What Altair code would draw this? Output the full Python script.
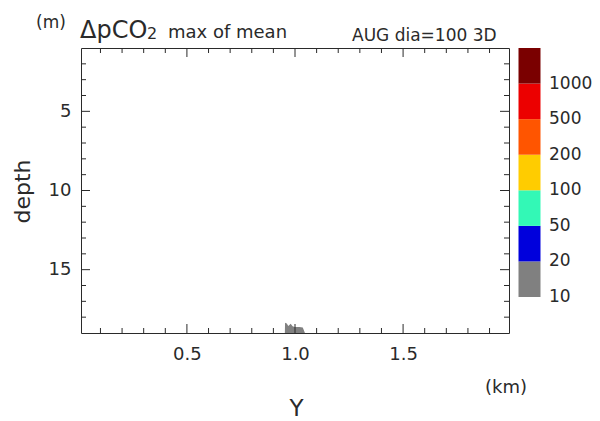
import altair as alt
import pandas as pd

# Shading levels of the colour key (lowest band first) and their colours
levels = [10, 20, 50, 100, 200, 500, 1000]
band_colors = ["#808080", "#0000dc", "#33f8b6", "#ffcc00", "#ff5500", "#ec0000", "#7a0000"]

# Outline of the shaded patch (10-20 band) sitting on the bottom boundary
patch_km = [0.953, 0.954, 0.962, 0.969, 0.980, 0.989, 0.998, 1.020, 1.036, 1.046]
patch_depth = [19.0, 18.36, 18.40, 18.55, 18.42, 18.58, 18.62, 18.62, 18.66, 19.0]

# Axis extents and tick positions
km_range = [0.01, 1.99]
depth_range = [1, 19]
km_major = [0.5, 1.0, 1.5]
km_minor = [0.1, 0.2, 0.3, 0.4, 0.6, 0.7, 0.8, 0.9, 1.1, 1.2, 1.3, 1.4, 1.6, 1.7, 1.8, 1.9]
depth_major = [5, 10, 15]
depth_minor = [2, 3, 4, 6, 7, 8, 9, 11, 12, 13, 14, 16, 17, 18]

W, H = 428, 285
INK = "#2a2a2a"
FONT = "DejaVu Sans"

xs = alt.Scale(domain=km_range, nice=False, zero=False)
ys = alt.Scale(domain=depth_range, nice=False, zero=False, reverse=True)

# One axis definition per direction, shared by every layer on that scale
x_axis = alt.Axis(
    values=km_major, format=".1f", title="Y", grid=False, ticks=False, domain=False,
    labelFont=FONT, labelFontSize=18, labelColor=INK, labelPadding=12,
    titleFont=FONT, titleFontSize=23, titleFontWeight="normal", titleColor=INK,
    titleX=215, titleY=75, titleAlign="center", titleBaseline="middle",
)
y_axis = alt.Axis(
    values=depth_major, title="depth", grid=False, ticks=False, domain=False,
    labelFont=FONT, labelFontSize=18, labelColor=INK, labelPadding=10,
    titleFont=FONT, titleFontSize=22, titleFontWeight="normal", titleColor=INK,
    titleAngle=270, titleX=-59, titleY=143, titleAlign="center", titleBaseline="middle",
)

patch = alt.Chart(pd.DataFrame({"km": patch_km, "depth": patch_depth})).mark_area(
    color="#808080", interpolate="linear"
).encode(
    x=alt.X("km:Q", scale=xs, axis=x_axis),
    y=alt.Y("depth:Q", scale=ys, axis=y_axis),
    y2=alt.datum(19),
)


def km_ticks(vals, length):
    df = pd.DataFrame({"km": vals})
    base = alt.Chart(df).mark_rule(color=INK, strokeWidth=1)
    xenc = alt.X("km:Q", scale=xs, axis=x_axis)
    bottom = base.encode(x=xenc, y=alt.value(H), y2=alt.value(H - length))
    top = base.encode(x=xenc, y=alt.value(0), y2=alt.value(length))
    return [bottom, top]


def depth_ticks(vals, length):
    df = pd.DataFrame({"depth": vals})
    base = alt.Chart(df).mark_rule(color=INK, strokeWidth=1)
    yenc = alt.Y("depth:Q", scale=ys, axis=y_axis)
    left = base.encode(y=yenc, x=alt.value(0), x2=alt.value(length))
    right = base.encode(y=yenc, x=alt.value(W), x2=alt.value(W - length))
    return [left, right]


def text(t, x, y, size, align="left"):
    return alt.Chart(pd.DataFrame({"t": [t]})).mark_text(
        font=FONT, fontSize=size, color=INK, align=align, baseline="alphabetic"
    ).encode(x=alt.value(x), y=alt.value(y), text="t:N")


headings = [
    text("(m)", -45, -20, 17),
    text("ΔpCO", -1, -10, 24),
    text("2", 66, -9, 16),
    text("max of mean", 87, -10, 18),
    text("AUG dia=100  3D", 271, -7, 17),
    text("(km)", 404, 345, 18),
]

ticks = km_ticks(km_major, 9) + km_ticks(km_minor, 5) + depth_ticks(depth_major, 9) + depth_ticks(depth_minor, 5)

main = alt.layer(patch, *ticks, *headings)

# Colour key to the right of the panel
cb_x = alt.Scale(domain=[0, 1], range=[437.5, 459.5])
cb_y = alt.Scale(domain=[0, 7], range=[249, 0])

boxes = pd.DataFrame({
    "lo": list(range(7)),
    "hi": list(range(1, 8)),
    "color": band_colors,
})
key_rect = alt.Chart(boxes).mark_rect().encode(
    x=alt.XDatum(0, scale=cb_x, axis=None),
    x2=alt.X2Datum(1),
    y=alt.Y("lo:Q", scale=cb_y, axis=None),
    y2="hi:Q",
    color=alt.Color("color:N", scale=None, legend=None),
)

key_labels = alt.Chart(pd.DataFrame({"b": list(range(7)), "lab": [str(v) for v in levels]})).mark_text(
    font=FONT, fontSize=17, color=INK, align="left", baseline="middle"
).encode(
    x=alt.value(468),
    y=alt.Y("b:Q", scale=cb_y, axis=None),
    text="lab:N",
)

key = alt.layer(key_rect, key_labels)

chart = alt.layer(main, key).resolve_scale(
    x="independent", y="independent", color="independent"
).properties(
    width=W,
    height=H,
    autosize=alt.AutoSizeParams(type="none"),
    padding={"left": 81, "top": 48, "right": 91, "bottom": 88},
    background="white",
).configure_view(stroke=INK, strokeWidth=1)

chart.save("out.html", embed_options={"renderer": "svg", "actions": False})
